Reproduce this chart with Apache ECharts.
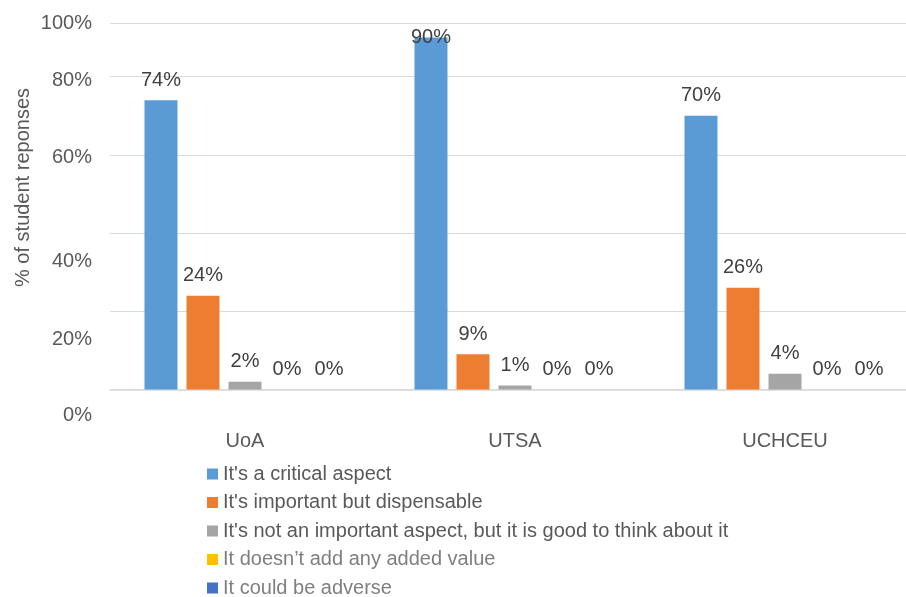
<!DOCTYPE html>
<html>
<head>
<meta charset="utf-8">
<title>Student responses</title>
<script src="https://cdn.jsdelivr.net/npm/echarts@6/dist/echarts.min.js"></script>
<style>
  html, body { margin: 0; padding: 0; background: #ffffff; overflow: hidden; }
  /* the plot runs on past the right edge of the window */
  #chart { width: 920px; height: 597px; }
</style>
</head>
<body>
<div id="chart"></div>
<script>
// Universities surveyed
const categories = ['UoA', 'UTSA', 'UCHCEU'];

// Answer options (one series each)
const seriesNames = [
  "It's a critical aspect",
  "It's important but dispensable",
  "It's not an important aspect, but it is good to think about it",
  "It doesn\u2019t add any added value",
  "It could be adverse"
];

// Share of student responses, in percent
const critical     = [74, 90, 70];
const important    = [24, 9, 26];
const notImportant = [2, 1, 4];
const noValue      = [0, 0, 0];
const adverse      = [0, 0, 0];

// Value-axis tick labels
const tickLabels = ['0%', '20%', '40%', '60%', '80%', '100%'];

const FONT = '"Liberation Sans", Arial, Helvetica, sans-serif';
const colors = ['#5B9BD5', '#ED7D31', '#A5A5A5', '#FFC000', '#4472C4'];
const legendTextColors = ['#595959', '#595959', '#595959', '#7f7f7f', '#7f7f7f'];

// vertical nudge (px, doubled as top padding) for each tick label
const tickPad = [52, 56, 56, 6, 8, 0];
const rich = {};
tickPad.forEach(function (p, i) {
  rich['t' + i] = {
    fontFamily: FONT, fontSize: 20, color: '#595959',
    padding: [p, 0, 0, 0]
  };
});

const allValues = [critical, important, notImportant, noValue, adverse];

const series = allValues.map(function (vals, s) {
  return {
    name: seriesNames[s],
    type: 'bar',
    barWidth: 33,
    barGap: '27.3%',
    itemStyle: { color: colors[s] },
    label: {
      show: true,
      position: 'top',
      distance: 10,
      formatter: '{c}%',
      fontFamily: FONT,
      fontSize: 20,
      color: '#404040'
    },
    data: vals.map(function (v) {
      // the tallest bar's label sits down on the bar top, held inside the plot
      if (v >= 90) {
        return { value: v, label: { offset: [0, 20] } };
      }
      return v;
    })
  };
});

const chart = echarts.init(document.getElementById('chart'), null, { renderer: 'canvas' });

chart.setOption({
  animation: false,
  backgroundColor: '#ffffff',
  color: colors,
  grid: {
    left: 110,
    top: 23.5,
    right: 0,
    bottom: 207.5,
    containLabel: false
  },
  xAxis: {
    type: 'category',
    data: categories,
    axisLine: { show: true, lineStyle: { color: '#d9d9d9', width: 1.5 } },
    axisTick: { show: false },
    axisLabel: {
      margin: 42,
      fontFamily: FONT,
      fontSize: 20,
      color: '#595959'
    }
  },
  yAxis: {
    type: 'value',
    min: 0,
    max: 93.6,
    interval: 20,
    axisLine: { show: false },
    axisTick: { show: false },
    splitLine: { show: true, lineStyle: { color: '#d9d9d9', width: 1 } },
    axisLabel: {
      margin: 18,
      fontFamily: FONT,
      fontSize: 20,
      color: '#595959',
      formatter: function (value, index) {
        return '{t' + index + '|' + tickLabels[index] + '}';
      },
      rich: rich
    }
  },
  legend: {
    orient: 'vertical',
    left: 207,
    top: 464,
    height: 200,
    padding: 0,
    itemWidth: 11,
    itemHeight: 11,
    itemGap: 8.5,
    icon: 'rect',
    textStyle: { fontFamily: FONT, fontSize: 20, color: '#595959' },
    data: seriesNames.map(function (n, i) {
      return { name: n, textStyle: { color: legendTextColors[i] } };
    })
  },
  graphic: [{
    type: 'text',
    x: 23,
    y: 187.5,
    rotation: Math.PI / 2,
    style: {
      text: '% of student reponses',
      font: '20px ' + FONT,
      fill: '#595959',
      align: 'center',
      verticalAlign: 'middle',
      textAlign: 'center',
      textVerticalAlign: 'middle'
    }
  }],
  series: series
});
</script>
</body>
</html>
